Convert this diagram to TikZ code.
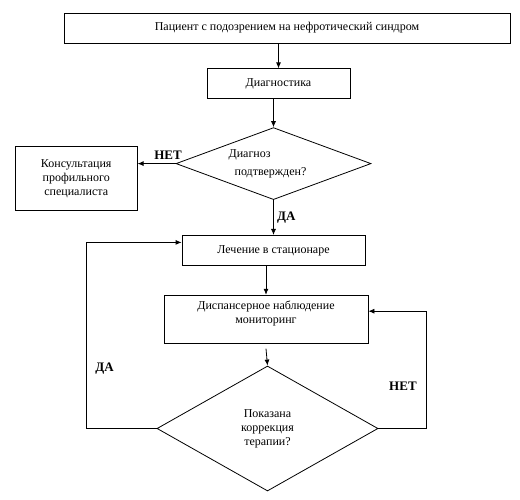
\documentclass[tikz,border=0pt]{standalone}
\usepackage{fontspec}
\setmainfont{Liberation Serif}
\usetikzlibrary{arrows.meta,shapes.geometric,positioning,calc}

\begin{document}
\begin{tikzpicture}[x=1pt,y=-1pt,align=center,font=\fontsize{12}{14}\selectfont]
\tikzstyle{block}=[rectangle,draw=black,line width=0.8pt,inner sep=2pt]
\tikzstyle{decision}=[diamond,draw=black,line width=0.8pt,inner sep=0pt]
\tikzstyle{answer}=[font=\fontsize{13}{15}\selectfont\bfseries]
\tikzstyle{flow}=[-{Latex[length=6pt,width=5pt]},line width=0.8pt]

\useasboundingbox (0,0) rectangle (520,500);

\node[block,minimum width=446pt,minimum height=30pt] (patient) at (287,28) {Пациент с подозрением на нефротический синдром};
\node[block,minimum width=143pt,minimum height=30pt] (diag) [below = 25pt of patient, xshift=-8.5pt] {Диагностика};
\node[decision,aspect=2.7,minimum width=195pt,minimum height=72pt,align=left] (confirmed) [below = 28pt of diag, xshift=-5pt] {Диагноз\\[4pt]\hspace*{6pt}подтвержден?\hspace*{12pt}};
\node[block,minimum width=122pt,minimum height=64pt] (consult) [left = 38pt of confirmed, yshift=-15pt] {Консультация\\профильного\\специалиста};
\node[block,minimum width=183pt,minimum height=30pt] (hospital) [below = 35pt of confirmed] {Лечение в стационаре};
\node[block,minimum width=204pt,minimum height=48pt] (monitor) [below = 29pt of hospital, xshift=-7.5pt] {Диспансерное наблюдение\\мониторинг\\\mbox{}};
\node[decision,aspect=1.77,minimum width=221pt,minimum height=125pt] (correction) [below = 22pt of monitor, xshift=1.5pt] {Показана\\коррекция\\терапии?};

\draw[flow] (diag.north |- patient.south) -- (diag.north);
\draw[flow] (confirmed.north |- diag.south) -- (confirmed.north);
\draw[flow] (confirmed.west) -- node[answer, pos=0.2, above] {НЕТ} (confirmed.west -| consult.east);
\draw[flow] (confirmed.south) -- node[answer, midway, right] {ДА} (confirmed.south |- hospital.north);
\draw[flow] (monitor.north |- hospital.south) -- (monitor.north);
\draw[flow] ([yshift=-5pt]monitor.south) -- (correction.north);
\draw[flow] (correction.west) -- ++(-70,0) |- node[answer, pos=0.16, right, xshift=5pt] {ДА} ([yshift=8pt]hospital.west);
\draw[flow] (correction.east) -- ++(48,0) |- node[answer, pos=0.18, left, xshift=-6pt] {НЕТ} ([yshift=8pt]monitor.east);
\end{tikzpicture}
\end{document}
